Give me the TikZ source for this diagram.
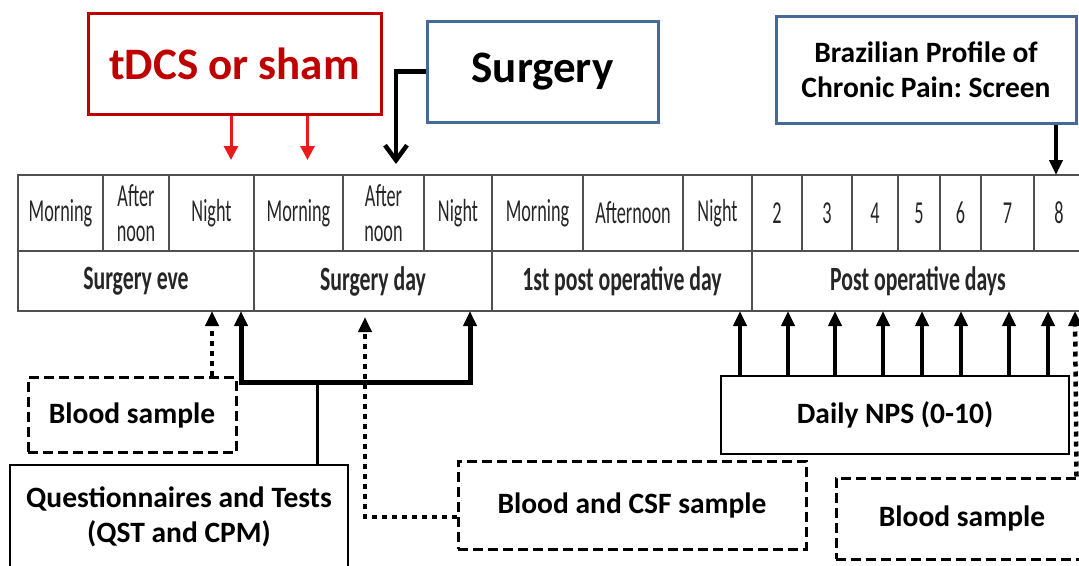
\documentclass[tikz,border=0pt]{standalone}
\usepackage{fontspec}
\setmainfont{Carlito}
\newfontfamily\narrowfont{Carlito}[FakeStretch=0.57]
\newfontfamily\daysfont{Carlito}[FakeStretch=0.64]
\usetikzlibrary{arrows.meta,positioning}
\definecolor{tdcsred}{RGB}{192,0,0}
\definecolor{arrowred}{RGB}{235,25,25}
\definecolor{boxblue}{RGB}{70,105,150}
\definecolor{tabline}{RGB}{80,80,80}
\frenchspacing

\begin{document}
\begin{tikzpicture}[x=1pt,y=-1pt,
    cell/.style={draw=tabline, line width=1.5pt, inner sep=0pt, align=center, text=black!85},
    topcell/.style={cell, minimum height=76pt, font=\narrowfont\fontsize{32}{35}\selectfont},
    daycell/.style={cell, minimum height=60pt, font=\daysfont\bfseries\fontsize{34}{38}\selectfont},
    plainbox/.style={draw, line width=2.5pt, inner sep=0pt, align=center, font=\bfseries\fontsize{29.5}{35}\selectfont},
    dashbox/.style={plainbox, line width=3pt, dash pattern=on 10pt off 5pt},
    bigtext/.style={font=\bfseries\fontsize{45}{54}\selectfont},
    upa/.style={line width=4pt, -{Triangle[length=15pt,width=13pt]}},
    dota/.style={upa, line width=4.5pt, dash pattern=on 5pt off 5pt},
    reda/.style={draw=arrowred, line width=3pt, -{Triangle[length=14pt,width=14pt]}},
  ]
  \useasboundingbox (0,0) rectangle (1079,565);

  % time table
  \foreach \l/\r/\t [count=\i] in {18/103/Morning, 103/169/{After\\noon}, 169/254/Night,
      254/343/Morning, 343/424/{After\\noon}, 424/492/Night,
      492/583/Morning, 583/683/Afternoon, 683/752/Night,
      752/802/2, 802/852/3, 852/898/4, 898/940/5, 940/981/6, 981/1034/7, 1034/1084/8}
    \node[topcell, minimum width={\r-\l}] (h\i) at ({(\l+\r)/2},213) {\t};
  \foreach \l/\r/\t/\n in {18/254/Surgery eve/eve, 254/492/Surgery day/sday,
      492/752/1st post operative day/pod, 752/1084/Post operative days/pods}
    \node[daycell, minimum width={\r-\l}] (\n) at ({(\l+\r)/2},281) {\t};

  % boxes above
  \node[plainbox, bigtext, draw=tdcsred, text=tdcsred, line width=3pt,
    minimum width=293pt, minimum height=101pt] (tdcs) at (234.5,63.5) {tDCS or sham};
  \node[plainbox, bigtext, draw=boxblue, line width=3pt,
    minimum width=231pt, minimum height=101pt] (surg) at (542.5,71.5) {Surgery};
  \node[plainbox, draw=boxblue, line width=3pt,
    minimum width=300pt, minimum height=107pt] (bpcp) at (926,70) {Brazilian Profile of\\Chronic Pain: Screen};

  % boxes below
  \node[dashbox, minimum width=208pt, minimum height=75pt] (bsl) at (132,415) {Blood sample};
  \node[plainbox, minimum width=338pt, minimum height=104pt] (qst) at (179,517) {Questionnaires and Tests\\(QST and CPM)};
  \node[dashbox, minimum width=348pt, minimum height=88pt] (bcsf) at (632,505) {Blood and CSF sample};
  \node[plainbox, minimum width=348pt, minimum height=78pt] (nps) at (895,415) {Daily NPS (0-10)};
  \node[dashbox, minimum width=252pt, minimum height=81pt] (bsr) at (962,518.5) {Blood sample};

  % arrow ends
  \coordinate (ra1) at (231,160);
  \coordinate (ra2) at (307.5,160);
  \coordinate (sa) at (396,164);
  \coordinate (ba) at (1056,175);
  \coordinate (stem) at (317,382);
  \coordinate (qa) at (241,311);
  \coordinate (qb) at (470,311);
  \coordinate (bla) at (212,311);
  \coordinate (csfa) at (365,317);
  \coordinate (bra) at (1075,311);
  \foreach \x [count=\i] in {740,788,835,883,922,961,1009,1048}
    \coordinate (np\i) at (\x,311);

  \draw[reda] (tdcs.south -| ra1) -- (ra1);
  \draw[reda] (tdcs.south -| ra2) -- (ra2);
  \draw[line width=4.5pt, -{Straight Barb[length=15pt,width=22pt]}] (surg.west) -| (sa);
  \draw[upa] (bpcp.south -| ba) -- (ba);

  \draw[line width=5pt, {Triangle[length=15pt,width=13pt]}-{Triangle[length=15pt,width=13pt]}]
    (qa) -- (qa |- stem) -- (qb |- stem) -- (qb);
  \draw[line width=3pt] (qst.north -| stem) -- (stem);
  \draw[dota] (bsl.north -| bla) -- (bla);
  \draw[dota] ([yshift=-12pt]bcsf.west) -| (csfa);
  \foreach \i in {1,...,8}
    \draw[upa] (nps.north -| np\i) -- (np\i);
  \draw[dota] ([xshift=-13pt]bsr.north east) -- (bra);
\end{tikzpicture}
\end{document}
